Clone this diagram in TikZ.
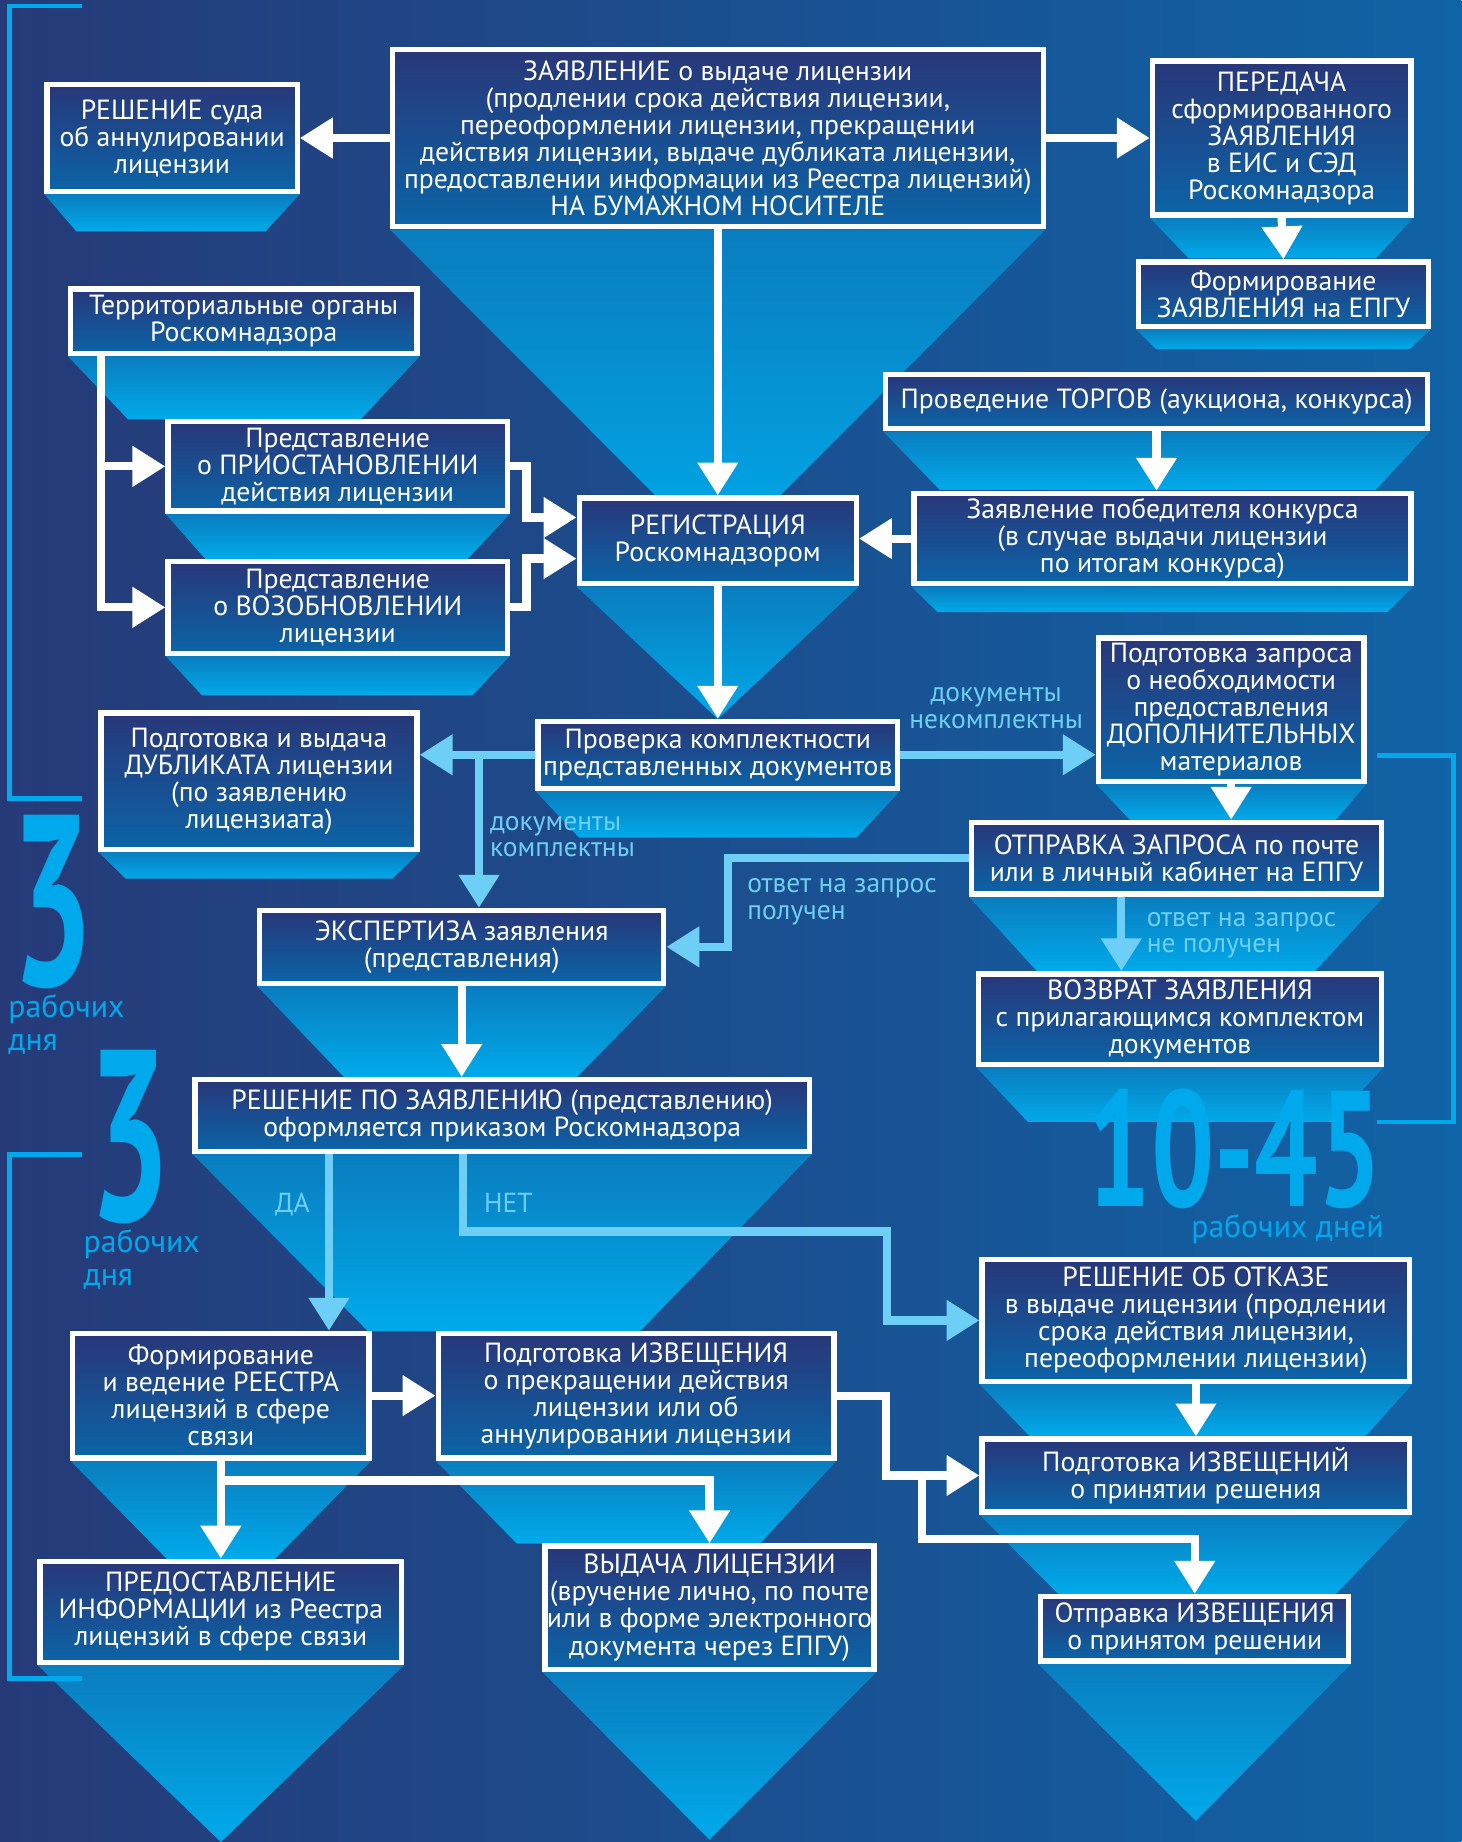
\documentclass[tikz,border=0pt]{standalone}
\usepackage{fontspec}
\setmainfont{PT Sans}
\usepackage{graphicx}
\usepackage{tikz}
\usetikzlibrary{arrows.meta, backgrounds}
\usepackage{xcolor}
\definecolor{NightBlue}{HTML}{263A78}
\definecolor{SeaBlue}{HTML}{1063A6}
\definecolor{BoxTop}{HTML}{283779}
\definecolor{BoxBottom}{HTML}{0B64A7}
\definecolor{FunnelTop}{HTML}{0A7DBF}
\definecolor{FunnelBottom}{HTML}{00AAEA}
\definecolor{SkyLine}{HTML}{6DCFF6}
\definecolor{BrightCyan}{HTML}{00A9EC}
\tikzset{
  stepbox/.style={draw=white, line width=4.5pt, top color=BoxTop, bottom color=BoxBottom,
    text=white, align=center, inner xsep=0pt, inner ysep=1pt,
    font=\fontsize{23.6}{23}\selectfont},
  boxsize/.style 2 args={minimum width=#1, minimum height=#2},
  funnel/.style={top color=FunnelTop, bottom color=FunnelBottom},
  flow/.style={draw=white, line width=7pt, -{Triangle[length=28pt, width=33pt]}},
  flowlight/.style={flow, draw=SkyLine},
  bracket/.style={draw=BrightCyan, line width=4pt},
  hint/.style={text=SkyLine, align=left, inner sep=0pt, font=\fontsize{23.4}{22.5}\selectfont},
  daycount/.style={text=BrightCyan, align=left, inner sep=0pt, font=\fontsize{27}{28}\selectfont},
  bignum/.style={text=BrightCyan, inner sep=0pt, font=\bfseries},
}

\begin{document}
\begin{tikzpicture}[x=1pt, y=-1pt]
  \useasboundingbox (0,0) rectangle (1244,1568);

  % Top row
  \node[stepbox, boxsize={554pt}{151pt}] (app) at (611,117.5)
    {ЗАЯВЛЕНИЕ о выдаче лицензии\\(продлении срока действия лицензии,\\переоформлении лицензии, прекращении\\действия лицензии, выдаче дубликата лицензии,\\предоставлении информации из Реестра лицензий)\\НА БУМАЖНОМ НОСИТЕЛЕ};
  \node[stepbox, boxsize={213pt}{91pt}] (court) at (146.5,117.5)
    {РЕШЕНИЕ суда\\об аннулировании\\лицензии};
  \node[stepbox, boxsize={220pt}{131pt}] (transfer) at (1091,117.5)
    {ПЕРЕДАЧА\\сформированного\\ЗАЯВЛЕНИЯ\\в ЕИС и СЭД\\Роскомнадзора};
  \node[stepbox, boxsize={247pt}{55pt}] (epgu) at (1092.5,250.5)
    {Формирование\\ЗАЯВЛЕНИЯ на ЕПГУ};

  % Registration block
  \node[stepbox, boxsize={295pt}{55pt}] (terr) at (207.5,273.5)
    {Территориальные органы\\Роскомнадзора};
  \node[stepbox, boxsize={461pt}{46pt}] (torg) at (984.5,342)
    {Проведение ТОРГОВ (аукциона, конкурса)};
  \node[stepbox, boxsize={289pt}{76pt}] (susp) at (287.5,397)
    {Представление\\о ПРИОСТАНОВЛЕНИИ\\действия лицензии};
  \node[stepbox, boxsize={236pt}{73pt}] (reg) at (611,460.5)
    {РЕГИСТРАЦИЯ\\Роскомнадзором};
  \node[stepbox, boxsize={423pt}{77pt}] (winner) at (989.5,458.5)
    {Заявление победителя конкурса\\(в случае выдачи лицензии\\по итогам конкурса)};
  \node[stepbox, boxsize={289pt}{78pt}] (renew) at (287.5,517)
    {Представление\\о ВОЗОБНОВЛЕНИИ\\лицензии};

  % Check and request
  \node[stepbox, boxsize={306pt}{57pt}] (check) at (611,642.5)
    {Проверка комплектности\\представленных документов};
  \node[stepbox, boxsize={269pt}{116pt}] (dup) at (220.5,665)
    {Подготовка и выдача\\ДУБЛИКАТА лицензии\\(по заявлению\\лицензиата)};
  \node[stepbox, boxsize={226pt}{122pt}] (extra) at (1048,604)
    {Подготовка запроса\\о необходимости\\предоставления\\ДОПОЛНИТЕЛЬНЫХ\\материалов};
  \node[stepbox, boxsize={349pt}{61pt}] (send) at (1001.5,730.5)
    {ОТПРАВКА ЗАПРОСА по почте\\или в личный кабинет на ЕПГУ};
  \node[stepbox, boxsize={344pt}{62pt}] (expert) at (393,806)
    {ЭКСПЕРТИЗА заявления\\(представления)};
  \node[stepbox, boxsize={343pt}{77pt}] (back) at (1004.5,867.5)
    {ВОЗВРАТ ЗАЯВЛЕНИЯ\\с прилагающимся комплектом\\документов};

  % Decision
  \node[stepbox, boxsize={523pt}{61pt}] (decision) at (427.5,949.5)
    {РЕШЕНИЕ ПО ЗАЯВЛЕНИЮ (представлению)\\оформляется приказом Роскомнадзора};
  \node[stepbox, boxsize={364pt}{104pt}] (refusal) at (1018,1124)
    {РЕШЕНИЕ ОБ ОТКАЗЕ\\в выдаче лицензии (продлении\\срока действия лицензии,\\переоформлении лицензии)};
  \node[stepbox, boxsize={252pt}{106pt}] (registry) at (188,1188)
    {Формирование\\и ведение РЕЕСТРА\\лицензий в сфере\\связи};
  \node[stepbox, boxsize={337pt}{106pt}] (notice) at (541.5,1188)
    {Подготовка ИЗВЕЩЕНИЯ\\о прекращении действия\\лицензии или об\\аннулировании лицензии};
  \node[stepbox, boxsize={364pt}{62pt}] (notices) at (1018,1256)
    {Подготовка ИЗВЕЩЕНИЙ\\о принятии решения};
  \node[stepbox, boxsize={308pt}{86pt}] (info) at (188,1372)
    {ПРЕДОСТАВЛЕНИЕ\\ИНФОРМАЦИИ из Реестра\\лицензий в сфере связи};
  \node[stepbox, boxsize={280pt}{105pt}] (issue) at (604,1368.5)
    {ВЫДАЧА ЛИЦЕНЗИИ\\(вручение лично, по почте\\или в форме электронного\\документа через ЕПГУ)};
  \node[stepbox, boxsize={262pt}{55pt}] (mailing) at (1017,1386.5)
    {Отправка ИЗВЕЩЕНИЯ\\о принятом решении};

  % Term labels
  \node[bignum] (termA) at (45,767.5) {\resizebox{70pt}{145pt}{3}};
  \node[daycount, anchor=base west] (daysA) at (7,894) {рабочих\\дня};
  \node[bignum] (termB) at (110,967.5) {\resizebox{70pt}{145pt}{3}};
  \node[daycount, anchor=base west] (daysB) at (71,1094) {рабочих\\дня};
  \node[bignum] (termC) at (1051,978) {\resizebox{250pt}{100pt}{10-45}};
  \node[daycount, anchor=base east] (daysC) at (1178,1053) {рабочих дней};

  % Connector labels
  \node[hint, align=center, anchor=base] (incomplete) at (848,620) {документы\\некомплектны};
  \node[hint, anchor=base west] (complete) at (417,729.5) {документы\\комплектны};
  \node[hint, anchor=base west] (answered) at (636,782.5) {ответ на запрос\\получен};
  \node[hint, anchor=base west] (unanswered) at (976,811) {ответ на запрос\\не получен};
  \node[hint, anchor=base west] (yeslabel) at (234,1032) {ДА};
  \node[hint, anchor=base west] (nolabel) at (412,1032) {НЕТ};

  % Brackets
  \draw[bracket] (70,5) -- (8,5) -- (8,680) -- (70,680);
  \draw[bracket] (70,983) -- (8,983) -- (8,1429) -- (70,1429);
  \draw[bracket] (1172,643) -- (1237,643) -- (1237,955) -- (1172,955);

  % Arrows from the application
  \draw[flow] (app.west) -- (court.east);
  \draw[flow] (app.east) -- (transfer.west);
  \draw[flow] (app.south) -- (reg.north);
  \draw[flow] (transfer.south) -- (epgu.north);

  % Territorial bodies
  \draw[flow] ([xshift=28pt]terr.south west) |- (susp.west);
  \draw[flow] ([xshift=28pt]terr.south west) |- (renew.west);
  \draw[flow] (susp.east) -- ++(14,0) |- ([yshift=20pt]reg.west);
  \draw[flow] (renew.east) -- ++(14,0) |- ([yshift=-15pt]reg.west);

  % Auctions
  \draw[flow] (torg.south) -- (torg.south |- winner.north);
  \draw[flow] (winner.west) -- (reg.east |- winner.west);

  % Completeness check
  \draw[flow] (reg.south) -- (check.north);
  \draw[flowlight] (check.west) -- (dup.east |- check.west);
  \coordinate (split) at ([xshift=-48pt]check.west);
  \draw[flowlight] (split) -- (split |- expert.north);
  \draw[flowlight] (check.east) -- (extra.west |- check.east);
  \draw[flow] (extra.south) -- (extra.south |- send.north);
  \draw[flowlight] (send.west) -- ++(-205,0) |- (expert.east);
  \coordinate (noanswer) at ([xshift=-47pt]send.south);
  \draw[flowlight] (noanswer) -- (noanswer |- back.north);
  \draw[flow] (expert.south) -- (expert.south |- decision.north);

  % Decision branches
  \coordinate (yes) at ([xshift=-147.5pt]decision.south);
  \draw[flowlight] (yes) -- (yes |- registry.north);
  \coordinate (no) at ([xshift=-33.5pt]decision.south);
  \draw[flowlight] (no) -- ++(0,66) -- ++(361,0) |- (refusal.west);
  \draw[flow] (registry.east) -- (notice.west);
  \draw[flow] (notice.east) -- ++(42,0) |- (notices.west);
  \coordinate (fork) at ([xshift=-49pt]notices.west);
  \draw[flow] (fork) -- ++(0,54) -| (mailing.north);
  \draw[flow] (refusal.south) -- (notices.north);
  \draw[flow] (registry.south) -- (info.north);
  \draw[flow] ([yshift=-17pt]registry.south) -| (issue.north);

  % Background and funnels
  \begin{scope}[on background layer]
    \shade[left color=NightBlue, right color=SeaBlue] (0,0) rectangle (1244,1568);
    \shade[funnel] (app.south west) -- (app.south east) -- (611,475) -- cycle;
    \shade[funnel] (court.south west) -- (court.south east) -- (226,197) -- (65,197) -- cycle;
    \shade[funnel] (transfer.south west) -- (transfer.south east) -- (1171,220) -- (1012,220) -- cycle;
    \shade[funnel] (epgu.south west) -- (epgu.south east) -- (1200,297) -- (984,297) -- cycle;
    \shade[funnel] (terr.south west) -- (terr.south east) -- (307,357) -- (109,357) -- cycle;
    \shade[funnel] (torg.south west) -- (torg.south east) -- (1171,417) -- (800,417) -- cycle;
    \shade[funnel] (susp.south west) -- (susp.south east) -- (398,476) -- (175,476) -- cycle;
    \shade[funnel] (reg.south west) -- (reg.south east) -- (611,612) -- cycle;
    \shade[funnel] (winner.south west) -- (winner.south east) -- (1181,521) -- (798,521) -- cycle;
    \shade[funnel] (renew.south west) -- (renew.south east) -- (402,592) -- (172,592) -- cycle;
    \shade[funnel] (check.south west) -- (check.south east) -- (729,713) -- (493,713) -- cycle;
    \shade[funnel] (dup.south west) -- (dup.south east) -- (334,748) -- (107,748) -- cycle;
    \shade[funnel] (extra.south west) -- (extra.south east) -- (1137,698) -- (962,698) -- cycle;
    \shade[funnel] (send.south west) -- (send.south east) -- (1119,827) -- (883,827) -- cycle;
    \shade[funnel] (expert.south west) -- (expert.south east) -- (491,917) -- (293,917) -- cycle;
    \shade[funnel] (back.south west) -- (back.south east) -- (1134,955) -- (875,955) -- cycle;
    \shade[funnel] (decision.south west) -- (decision.south east) -- (545,1133) -- (313,1133) -- cycle;
    \shade[funnel] (refusal.south west) -- (refusal.south east) -- (1162,1223) -- (877,1223) -- cycle;
    \shade[funnel] (registry.south west) -- (registry.south east) -- (234,1327) -- (142,1327) -- cycle;
    \shade[funnel] (notice.south west) -- (notice.south east) -- (647,1314) -- (440,1314) -- cycle;
    \shade[funnel] (notices.south west) -- (notices.south east) -- (1137,1357) -- (901,1357) -- cycle;
    \shade[funnel] (info.south west) -- (info.south east) -- (188,1568) -- cycle;
    \shade[funnel] (issue.south west) -- (issue.south east) -- (604,1566) -- cycle;
    \shade[funnel] (mailing.south west) -- (mailing.south east) -- (1018,1550) -- cycle;
  \end{scope}
\end{tikzpicture}
\end{document}
